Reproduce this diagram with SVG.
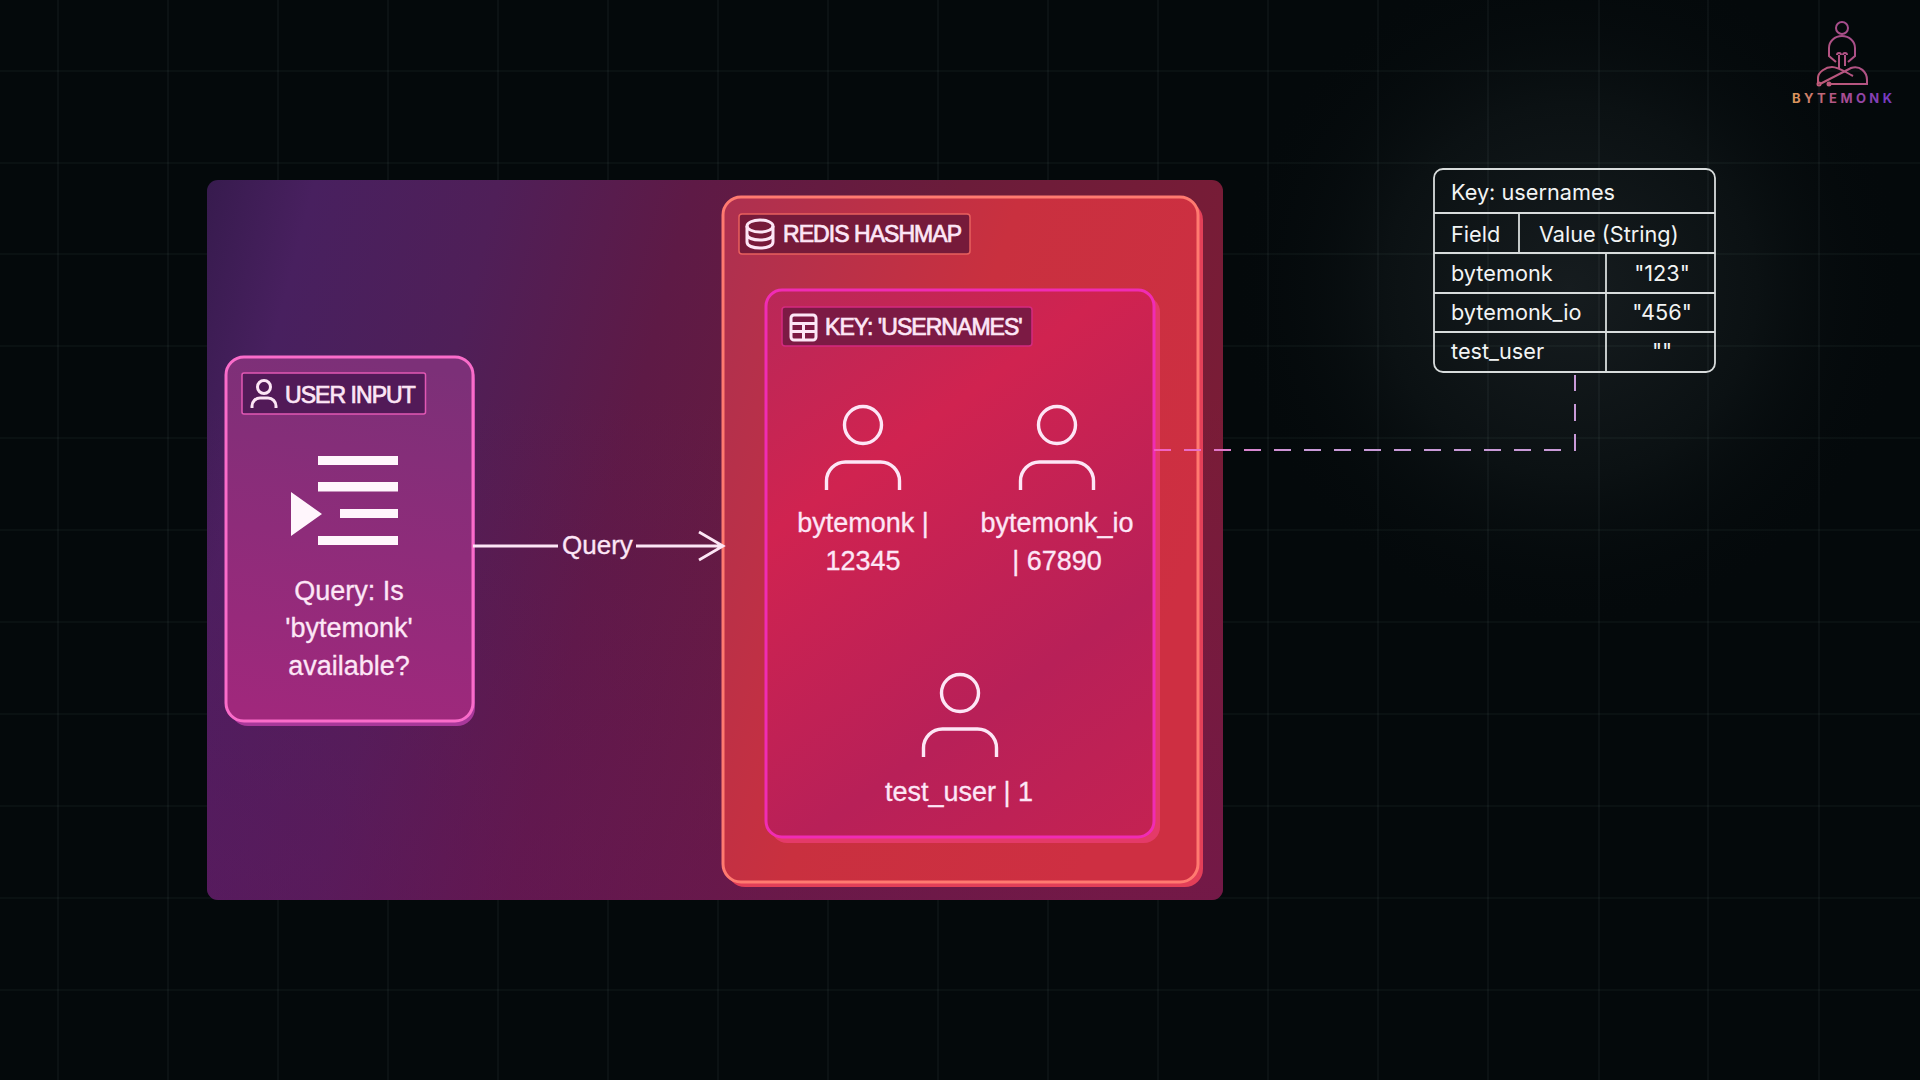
<svg xmlns="http://www.w3.org/2000/svg" width="1920" height="1080" viewBox="0 0 1920 1080">
<defs>
<radialGradient id="glow" gradientUnits="userSpaceOnUse" cx="1570" cy="290" r="340"><stop offset="0" stop-color="#161c1f"/><stop offset="0.55" stop-color="#0b1113"/><stop offset="1" stop-color="#04090b" stop-opacity="0"/></radialGradient>
<linearGradient id="panel" gradientUnits="userSpaceOnUse" x1="207" y1="180" x2="1223" y2="440"><stop offset="0" stop-color="#371b4e"/><stop offset="0.1" stop-color="#48205f"/><stop offset="0.27" stop-color="#4f1f58"/><stop offset="0.45" stop-color="#5e1a46"/><stop offset="0.7" stop-color="#6b1c3a"/><stop offset="1" stop-color="#7a1c36"/></linearGradient>
<linearGradient id="panelB" x1="0" y1="0" x2="0" y2="1"><stop offset="0.3" stop-color="#681460" stop-opacity="0"/><stop offset="1" stop-color="#681460" stop-opacity="0.45"/></linearGradient>
<linearGradient id="redis" x1="0" y1="0" x2="1" y2="0.5"><stop offset="0" stop-color="#ad3050"/><stop offset="0.5" stop-color="#c9303f"/><stop offset="1" stop-color="#ce2f42"/></linearGradient>
<linearGradient id="keybox" gradientUnits="userSpaceOnUse" x1="766" y1="290" x2="1154" y2="837"><stop offset="0" stop-color="#b92858"/><stop offset="0.3" stop-color="#d02350"/><stop offset="0.7" stop-color="#b82058"/><stop offset="1" stop-color="#c42252"/></linearGradient>
<linearGradient id="userbox" x1="0.5" y1="0" x2="0.4" y2="1"><stop offset="0" stop-color="#7c3078"/><stop offset="1" stop-color="#a0287c"/></linearGradient>
<linearGradient id="logoT" gradientUnits="userSpaceOnUse" x1="1792" y1="0" x2="1892" y2="0"><stop offset="0" stop-color="#e09a58"/><stop offset="0.45" stop-color="#b0508a"/><stop offset="1" stop-color="#7038c8"/></linearGradient>
<linearGradient id="logoS" gradientUnits="userSpaceOnUse" x1="1817" y1="85" x2="1867" y2="25"><stop offset="0" stop-color="#c05a78"/><stop offset="1" stop-color="#a04a90"/></linearGradient>
<linearGradient id="dash" gradientUnits="userSpaceOnUse" x1="1154" y1="0" x2="1300" y2="0"><stop offset="0" stop-color="#f45ec0"/><stop offset="1" stop-color="#c99ad8"/></linearGradient>
</defs>
<style>
.t{font-family:"Liberation Sans",Arial,sans-serif;fill:#fde6f6;stroke:#fde6f6;stroke-width:.3px}
.c{text-anchor:middle;font-size:27px}
.h{font-size:23px;letter-spacing:-.95px;stroke-width:.7px}
.i{fill:none;stroke:#fde6f6;stroke-width:3}
.u{fill:none;stroke:#fde6f6;stroke-width:3.4}
.g{stroke:#d8fff0;stroke-opacity:.07;stroke-width:1.2}
.tb{font-family:Inter,"Liberation Sans",sans-serif;font-size:21.7px;fill:#f2f4f4}
.tl{stroke:#d8dcdc;stroke-width:1.8;fill:none}
</style>
<rect width="1920" height="1080" fill="#04090b"/>
<rect x="1200" y="0" width="720" height="660" fill="url(#glow)"/>
<g id="grid">
<path class="g" d="M58 0V1080M168 0V1080M278 0V1080M388 0V1080M498 0V1080M608 0V1080M718 0V1080M828 0V1080M938 0V1080M1048 0V1080M1158 0V1080M1268 0V1080M1378 0V1080M1488 0V1080M1599 0V1080M1708 0V1080M1819 0V1080"/>
<path class="g" d="M0 71H1920M0 163H1920M0 254H1920M0 346H1920M0 438H1920M0 530H1920M0 622H1920M0 714H1920M0 806H1920M0 898H1920M0 990H1920"/>
</g>
<g id="panel-bg">
<rect x="207" y="180" width="1016" height="720" rx="11" fill="url(#panel)"/>
<rect x="207" y="180" width="1016" height="720" rx="11" fill="url(#panelB)" opacity=".9"/>
</g>
<g id="redis-hashmap">
<rect x="727" y="202" width="476" height="685" rx="18" fill="#e23f58"/>
<rect x="723" y="197" width="475" height="685" rx="18" fill="url(#redis)" stroke="#ff7a70" stroke-width="3"/>
<rect x="739" y="214" width="231" height="40" rx="3" fill="#761a3a" stroke="#e8605e" stroke-width="1.5"/>
<g class="i"><ellipse cx="760" cy="226" rx="13" ry="6"/><path d="M747 226V242C747 246 753 248 760 248S773 246 773 242V226M747 234C747 238 753 240 760 240S773 238 773 234"/></g>
<text class="t h" x="783" y="242">REDIS HASHMAP</text>
</g>
<g id="key-usernames">
<rect x="771" y="296" width="389" height="547" rx="16" fill="#e43a68"/>
<rect x="766" y="290" width="388" height="547" rx="16" fill="url(#keybox)" stroke="#f02cb4" stroke-width="3"/>
<rect x="782" y="307" width="250" height="39" rx="3" fill="#7c1a44" stroke="#d42a80" stroke-width="1.5"/>
<g class="i"><rect x="791" y="315" width="25" height="25" rx="3"/><path d="M791 323.500H816M791 331.500H816M803.500 323.500V340"/></g>
<text class="t h" x="825" y="335">KEY: 'USERNAMES'</text>
</g>
<g id="user-bytemonk">
<circle class="u" cx="863" cy="425" r="18.500"/>
<path class="u" d="M826.500 490V481A19 19 0 0 1 845.500 462H880.500A19 19 0 0 1 899.500 481V490"/>
<text class="t c" x="863" y="532">bytemonk |</text>
<text class="t c" x="863" y="570">12345</text>
</g>
<g id="user-bytemonk-io">
<circle class="u" cx="1057" cy="425" r="18.500"/>
<path class="u" d="M1020.500 490V481A19 19 0 0 1 1039.500 462H1074.500A19 19 0 0 1 1093.500 481V490"/>
<text class="t c" x="1057" y="532">bytemonk_io</text>
<text class="t c" x="1057" y="570">| 67890</text>
</g>
<g id="user-test-user">
<circle class="u" cx="960" cy="693" r="18.500"/>
<path class="u" d="M923.500 757V748A19 19 0 0 1 942.500 729H977.500A19 19 0 0 1 996.500 748V757"/>
<text class="t c" x="959" y="801">test_user | 1</text>
</g>
<g id="user-input">
<rect x="230" y="361" width="245" height="365" rx="18" fill="#a8389a"/>
<rect x="226" y="357" width="247" height="364" rx="18" fill="url(#userbox)" stroke="#fa6cca" stroke-width="3"/>
<rect x="242" y="373" width="183.500" height="41" rx="2" fill="#521a58" stroke="#e258b4" stroke-width="1.500"/>
<circle class="i" cx="264" cy="387" r="6.500"/>
<path class="i" d="M252 408V406A8 8 0 0 1 260 398H268A8 8 0 0 1 276 406V408"/>
<text class="t h" x="285" y="403">USER INPUT</text>
<path fill="#fff6fc" d="M318 456H398V465H318ZM318 482H398V491.500H318ZM340 509H398V518H340ZM318 536H398V545H318ZM291 492L322 514L291 536Z"/>
<text class="t c" x="349" y="600">Query: Is</text>
<text class="t c" x="349" y="637">'bytemonk'</text>
<text class="t c" x="349" y="675">available?</text>
</g>
<g id="connectors">
<path fill="none" stroke="#fde6f6" stroke-width="2.800" d="M473 546H558M636 546H722M699 532L723 546L699 560"/>
<text class="t" x="562" y="554" style="font-size:26px">Query</text>
<path fill="none" stroke="url(#dash)" stroke-width="2" stroke-dasharray="17 13" d="M1154 450H1575V375"/>
</g>
<g id="hash-table">
<rect class="tl" x="1434" y="169" width="281" height="203" rx="9" fill="#12181b" fill-opacity=".75"/>
<path class="tl" d="M1434 213H1715M1434 253H1715M1434 293H1715M1434 332H1715M1519 213V253M1606 253V372"/>
<text class="tb" x="1451" y="200">Key: usernames</text>
<text class="tb" x="1451" y="242">Field</text>
<text class="tb" x="1539" y="242">Value (String)</text>
<text class="tb" x="1451" y="281">bytemonk</text>
<text class="tb" x="1451" y="320">bytemonk_io</text>
<text class="tb" x="1451" y="359">test_user</text>
<text class="tb" x="1662" y="281" text-anchor="middle">"123"</text>
<text class="tb" x="1662" y="320" text-anchor="middle">"456"</text>
<text class="tb" x="1662" y="359" text-anchor="middle">""</text>
</g>
<g id="logo">
<g fill="none" stroke="url(#logoS)" stroke-width="2">
<circle cx="1842" cy="28" r="6"/>
<path d="M1836 62L1829 56V48A13 12 0 0 1 1842 36A13 12 0 0 1 1855 48V56L1848 62"/>
<path d="M1839 55V68M1845 55V66M1837 55A2 2 0 0 1 1841 55M1843 55A2 2 0 0 1 1847 55"/>
<path d="M1818 84V78C1818 72 1826 67 1832 67C1838 67 1842 70 1853 76M1820 84L1851 68C1860 65 1867 72 1867 80V84H1828"/>
<circle cx="1819" cy="84" r="1.500"/><circle cx="1829" cy="84" r="1.500"/>
</g>
<text x="1792" y="103" fill="url(#logoT)" style="font-family:Inter,'Liberation Sans',sans-serif;font-size:13px;font-weight:700;letter-spacing:3.400px">BYTEMONK</text>
</g>
</svg>
